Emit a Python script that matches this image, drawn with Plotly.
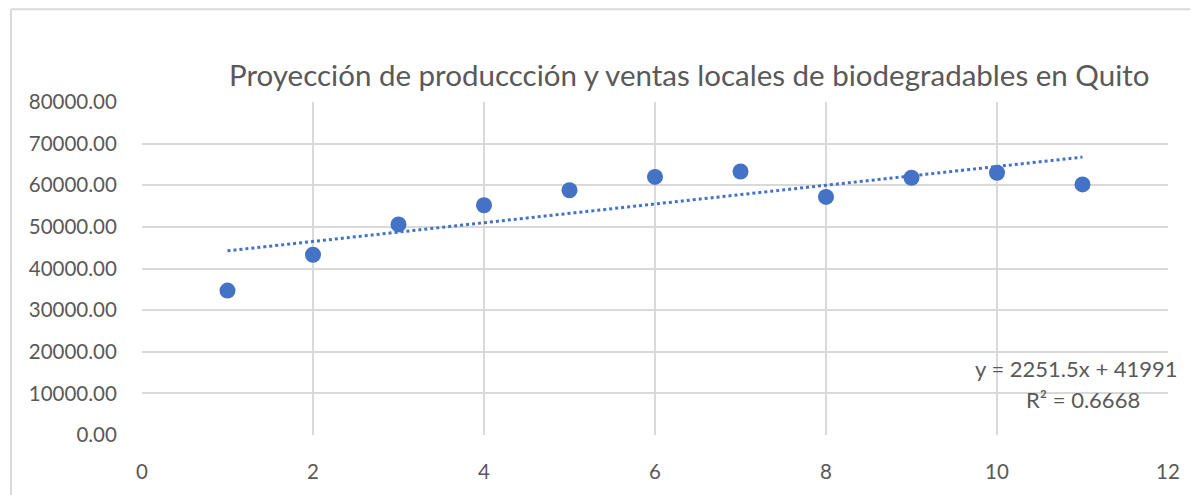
import plotly.graph_objects as go

periods = [1, 2, 3, 4, 5, 6, 7, 8, 9, 10, 11]
values = [34700, 43300, 50600, 55200, 58800, 62000, 63300, 57200, 61800, 63000, 60200]
trend_slope = 2251.5
trend_intercept = 41991
r_squared = 0.6668
title_text = "Proyección de produccción y ventas locales de biodegradables en Quito"

BLUE = "#4472C4"
GRID = "#d9d9d9"
TXT = "#595959"
FONT = "Lato"

trend_x = [periods[0], periods[-1]]
trend_y = [trend_slope * x + trend_intercept for x in trend_x]

fig = go.Figure()
fig.add_trace(go.Scatter(x=trend_x, y=trend_y, mode="lines",
                         line=dict(color=BLUE, width=3, dash="dot"),
                         hoverinfo="skip", showlegend=False))
fig.add_trace(go.Scatter(x=periods, y=values, mode="markers",
                         marker=dict(color=BLUE, size=16),
                         showlegend=False))

# page body has an 8px margin; positions below are screen pixels
OFF = 8
W, H = 1198 - OFF, 495 - OFF
L, T = 142 - OFF, 102 - OFF
pw = 1168 - 142
ph = 439.3 - 101.7
R = W - L - pw
B = H - T - ph

def px_x(p):
    return (p - OFF - L) / pw

def px_y(p):
    return (H - B - (p - OFF)) / ph

fig.update_layout(
    width=W, height=H,
    margin=dict(l=L, r=R, t=T, b=B, pad=0),
    paper_bgcolor="white", plot_bgcolor="white",
    font=dict(family=FONT, color=TXT, size=20.5),
    xaxis=dict(range=[0, 12], dtick=2, tick0=0, showgrid=True, gridcolor=GRID,
               gridwidth=2, zeroline=False, showline=False,
               ticks="outside", ticklen=18, tickcolor="rgba(0,0,0,0)",
               tickfont=dict(size=20.5, color=TXT, family=FONT)),
    yaxis=dict(range=[0, 80000], dtick=10000, tick0=0, tickformat=".2f",
               showgrid=True, gridcolor=GRID, gridwidth=2, zeroline=False,
               showline=False, ticks="outside", ticklen=20,
               tickcolor="rgba(0,0,0,0)",
               tickfont=dict(size=20.5, color=TXT, family=FONT)),
    shapes=[
        dict(type="line", xref="paper", yref="paper",
             x0=px_x(11), x1=px_x(1210), y0=px_y(8), y1=px_y(8),
             line=dict(color=GRID, width=2)),
        dict(type="line", xref="paper", yref="paper",
             x0=px_x(11), x1=px_x(11), y0=px_y(8), y1=px_y(505),
             line=dict(color=GRID, width=2)),
    ],
    annotations=[
        dict(text=title_text, xref="paper", yref="paper",
             x=px_x(689), y=px_y(74), xanchor="center", yanchor="middle",
             showarrow=False, font=dict(size=29.5, color=TXT, family=FONT)),
        dict(text=f"y = {trend_slope}x + {trend_intercept}", xref="paper", yref="paper",
             x=px_x(1180), y=px_y(372), xanchor="right", yanchor="middle",
             showarrow=False, font=dict(size=22, color=TXT, family=FONT)),
        dict(text=f"R² = {r_squared}", xref="paper", yref="paper",
             x=px_x(1083), y=px_y(404), xanchor="center", yanchor="middle",
             showarrow=False, font=dict(size=22, color=TXT, family=FONT)),
    ],
)

fig.write_html("out.html")
